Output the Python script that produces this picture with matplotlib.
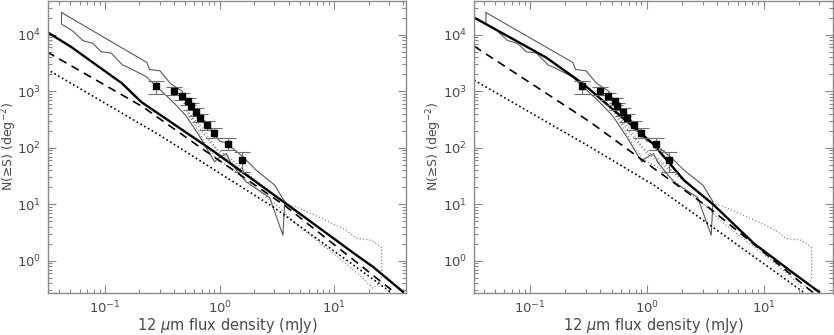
import matplotlib
matplotlib.use('Agg')
import matplotlib.pyplot as plt

# observed 12 um counts (filled squares) with error bars
obs_s = [0.276, 0.40, 0.466, 0.532, 0.558, 0.625, 0.673, 0.774, 0.887, 1.19, 1.56]
obs_n = [1236, 1020, 822, 671, 547, 433, 336, 252, 184, 116, 60.5]
obs_lo = [892, 850, 710, 580, 470, 370, 285, 210, 150, 91, 38]
obs_hi = [1535, 1180, 950, 775, 630, 510, 395, 302, 225, 148, 84]

# grey solid envelope (same in both panels)
env_up_s = [0.0418, 0.232, 0.245, 0.302, 0.372, 0.468, 0.490, 0.550, 0.676, 0.813,
            0.933, 1.0, 1.14, 1.60, 2.09, 3.02, 3.69]
env_up_n = [24900, 3250, 2440, 2310, 1380, 1020, 832, 631, 380, 240,
            158, 132, 122, 69, 40, 21.9, 11.1]
env_lo_s = [0.0418, 0.0418, 0.0525, 0.0641, 0.0783, 0.0927, 0.113, 0.143, 0.158, 0.229,
            0.398, 0.513, 0.668, 0.904, 0.966, 1.14, 1.26, 1.70, 2.73, 3.56, 3.69]
env_lo_n = [24900, 15500, 11700, 7940, 7080, 5010, 4790, 2910, 2690, 1820,
            631, 363, 160, 56.5, 64.9, 79.4, 53, 25.1, 13.2, 2.85, 11.1]

# grey dotted envelope (same in both panels)
dot_up_s = [0.513, 0.708, 0.933, 1.26, 2.0, 3.69, 4.99, 7.46, 12.7, 15.6, 21.1, 25.8, 25.8]
dot_up_n = [465, 224, 97.7, 63.1, 28.2, 10.5, 8.45, 5.86, 3.49, 2.49, 2.32, 1.73, 0.455]
dot_mid_s = [0.513, 0.759, 1.0, 1.58, 3.69]
dot_mid_n = [465, 158, 79.4, 39.8, 10.5]
dot_lo_s = [0.513, 0.631, 0.794, 0.955, 1.26, 2.0, 3.16, 4.37, 7.46, 12.7, 17.2, 21.8, 25.8]
dot_lo_n = [465, 224, 97.7, 60.3, 44.7, 20, 9.55, 5.0, 2.09, 0.89, 0.52, 0.324, 0.455]

# left panel models
l_tot_s = [0.0312, 0.0512, 0.0845, 0.140, 0.208, 0.818, 3.77, 15.6, 21.8, 39.7]
l_tot_n = [11300, 6050, 2910, 1400, 646, 97.5, 10.4, 1.26, 0.78, 0.282]
l_dash_s = [0.0312, 0.214, 0.668, 3.69, 33.9]
l_dash_n = [5000, 532, 104, 9.55, 0.272]
l_dot_s = [0.0312, 0.299, 2.92, 31.6]
l_dot_n = [2470, 168, 9.04, 0.272]

# right panel models
r_tot_s = [0.0331, 0.137, 0.282, 1.12, 2.08, 3.76, 8.28, 18.2, 29.9]
r_tot_n = [20300, 3980, 1380, 120, 26.8, 9.68, 2.03, 0.598, 0.282]
r_dash_s = [0.0331, 0.326, 1.15, 3.48, 22.2, 26.7]
r_dash_n = [6310, 288, 43.2, 8.45, 0.372, 0.272]
r_dot_s = [0.0331, 0.326, 1.15, 2.20, 20.8, 22.4]
r_dot_n = [1580, 104, 21.9, 8.45, 0.303, 0.272]

FRAME = '#8a8a8a'
TEXT = '#4a4a4a'
GREY = '#5a5a5a'


def draw_panel(ax, tot, dash, dot, xlim):
    ax.set_xscale('log')
    ax.set_yscale('log')
    ax.plot(env_up_s, env_up_n, color=GREY, lw=0.8)
    ax.plot(env_lo_s, env_lo_n, color=GREY, lw=0.8)
    for s, n in [(dot_up_s, dot_up_n), (dot_mid_s, dot_mid_n), (dot_lo_s, dot_lo_n)]:
        ax.plot(s, n, color='#777777', lw=0.8, ls=(0, (1, 2)))
    ax.plot(dot[0], dot[1], color='k', lw=1.2, ls=(0, (1, 1.6)))
    ax.plot(dash[0], dash[1], color='k', lw=1.2, ls=(0, (5, 3.5)))
    ax.plot(tot[0], tot[1], color='k', lw=1.7)
    yerr = [[n - lo for n, lo in zip(obs_n, obs_lo)], [hi - n for n, hi in zip(obs_n, obs_hi)]]
    ax.errorbar(obs_s, obs_n, yerr=yerr, fmt='none', ecolor='#707070', elinewidth=0.8,
                capsize=5.5, capthick=0.8)
    ax.plot(obs_s, obs_n, 's', color='k', ms=4, zorder=5)
    ax.set_xlim(*xlim)
    ax.set_ylim(0.27, 4.0e4)
    for sp in ax.spines.values():
        sp.set_color(FRAME)
        sp.set_linewidth(1.0)
    ax.tick_params(which='both', direction='in', top=True, right=True, colors=FRAME,
                   labelcolor=TEXT, labelsize=9.5)
    ax.tick_params(which='major', length=6, width=0.8, pad=5)
    ax.tick_params(which='minor', length=3, width=0.8)
    ax.set_xlabel(r'12 $\mu$m flux density (mJy)', color=TEXT, fontsize=10.5)
    ax.set_ylabel('N(≥S) (deg$^{-2}$)', color=TEXT, fontsize=9, va='center')


fig = plt.figure(figsize=(8.34, 3.35), dpi=100)
ax1 = fig.add_axes([0.0576, 0.1254, 0.4293, 0.872])
ax2 = fig.add_axes([0.5683, 0.1254, 0.4305, 0.872])

draw_panel(ax1, (l_tot_s, l_tot_n), (l_dash_s, l_dash_n), (l_dot_s, l_dot_n), (0.0319, 42.2))
draw_panel(ax2, (r_tot_s, r_tot_n), (r_dash_s, r_dash_n), (r_dot_s, r_dot_n), (0.033, 39.4))

ax1.yaxis.set_label_coords(-0.108, 0.5)
ax2.yaxis.set_label_coords(-0.112, 0.5)
ax1.xaxis.set_label_coords(0.5, -0.078)
ax2.xaxis.set_label_coords(0.5, -0.078)

fig.savefig('out.png', dpi=100)
